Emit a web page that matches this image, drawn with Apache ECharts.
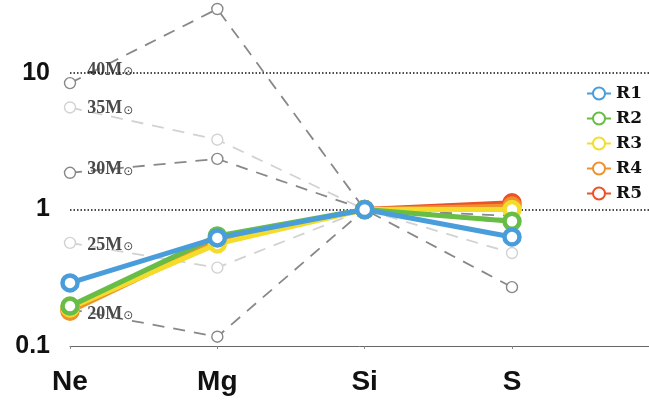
<!DOCTYPE html>
<html>
<head>
<meta charset="utf-8">
<script src="https://cdn.jsdelivr.net/npm/echarts@6/dist/echarts.min.js"></script>
<style>
  html, body { margin: 0; padding: 0; background: #fff; }
  #chart { width: 649px; height: 402px; }
</style>
</head>
<body>
<div id="chart"></div>
<script>
// elements on the x axis
var elements = ['Ne', 'Mg', 'Si', 'S'];
var yTicks = [0.1, 1, 10];
var yTickLabels = ['0.1', '1', '10'];

// observed ratios (relative to Si)
var runNames = ['R1', 'R2', 'R3', 'R4', 'R5'];
var r1 = [0.29, 0.62, 1, 0.63];
var r2 = [0.196, 0.64, 1, 0.82];
var r3 = [0.19, 0.56, 1, 1.0];
var r4 = [0.18, 0.59, 1, 1.06];
var r5 = [0.185, 0.60, 1, 1.12];

// model yields
var modelNames = ['40M', '35M', '30M', '25M', '20M'];
var m40 = [8.45, 29.5, 1, 0.27];
var m35 = [5.6, 3.25, 1, 0.48];
var m30 = [1.86, 2.35, 1, 0.80];
var m25 = [0.57, 0.375, 1, 0.85];
var m20 = [0.186, 0.117, 1, 0.9];

var runColors = ['#4a9ddb', '#67bd45', '#f4dc2c', '#f0922b', '#ec5127'];
var modelColors = ['#888888', '#d2d2d2', '#888888', '#d2d2d2', '#888888'];
var labelOffsets = [-13, 1, -3, 2, 5];

var chart = echarts.init(document.getElementById('chart'));

function modelSeries(name, vals, idx) {
  var data = vals.map(function (v, i) {
    var item = { value: [i, v] };
    if (i === 0) {
      item.label = {
        show: true,
        position: 'right',
        distance: 11,
        offset: [0, labelOffsets[idx]],
        formatter: '{a|' + name + '}{b|⊙}',
        rich: {
          a: { fontFamily: 'Liberation Serif', fontWeight: 'bold', fontSize: 18, color: '#4a4a4a' },
          b: { fontFamily: 'DejaVu Sans', fontSize: 12, color: '#4a4a4a', padding: [4, 0, 0, 1] }
        }
      };
    }
    return item;
  });
  return {
    name: name,
    type: 'line',
    data: data,
    z: 1,
    clip: false,
    symbol: 'circle',
    symbolSize: 11,
    itemStyle: { color: '#fff', borderColor: modelColors[idx], borderWidth: 1.4 },
    lineStyle: { color: modelColors[idx], width: 1.8, type: [12, 9] },
    animation: false
  };
}

function runSeries(name, vals, idx) {
  return {
    name: name,
    type: 'line',
    data: vals.map(function (v, i) { return [i, v]; }),
    z: 10 - idx,
    clip: false,
    symbol: 'circle',
    symbolSize: 15,
    itemStyle: { color: '#fff', borderColor: runColors[idx], borderWidth: 4.5 },
    lineStyle: { color: runColors[idx], width: 5 },
    animation: false
  };
}

var models = [m40, m35, m30, m25, m20];
var runs = [r1, r2, r3, r4, r5];
var series = [];
models.forEach(function (m, i) { series.push(modelSeries(modelNames[i], m, i)); });
runs.forEach(function (r, i) { series.push(runSeries(runNames[i], r, i)); });

// dotted reference lines at 1 and 10
series[0].markLine = {
  silent: true,
  symbol: ['none', 'none'],
  label: { show: false },
  lineStyle: { color: '#111', width: 1.5, type: [1.5, 2] },
  data: [{ yAxis: 10 }, { yAxis: 1 }],
  animation: false
};

var option = {
  animation: false,
  grid: { left: 70, right: 0, top: 8, bottom: 56 },
  legend: {
    data: runNames,
    orient: 'vertical',
    left: 581,
    top: 80,
    itemWidth: 24,
    itemHeight: 15,
    itemGap: 8,
    textStyle: { fontFamily: 'DejaVu Serif', fontWeight: 'bold', fontSize: 17, color: '#111' }
  },
  xAxis: {
    type: 'value',
    min: 0,
    max: 3.93,
    interval: 1,
    splitLine: { show: false },
    axisLine: { show: true, lineStyle: { color: '#666', width: 1 } },
    axisTick: { show: true, length: 3, lineStyle: { color: '#888' } },
    axisLabel: {
      showMaxLabel: false,
      margin: 22,
      fontFamily: 'Liberation Sans',
      fontWeight: 'bold',
      fontSize: 28,
      color: '#111',
      formatter: function (v) {
        return elements[Math.round(v)] !== undefined && Math.abs(v - Math.round(v)) < 1e-6 ? elements[Math.round(v)] : '';
      }
    }
  },
  yAxis: {
    type: 'log',
    logBase: 10,
    min: 0.1,
    max: 30,
    splitLine: { show: false },
    axisLine: { show: false },
    axisTick: { show: false },
    axisLabel: {
      showMaxLabel: false,
      margin: 20,
      fontFamily: 'Liberation Sans',
      fontWeight: 'bold',
      fontSize: 25,
      color: '#111',
      formatter: function (v) {
        for (var i = 0; i < yTicks.length; i++) {
          if (Math.abs(Math.log10(v) - Math.log10(yTicks[i])) < 1e-6) return yTickLabels[i];
        }
        return '';
      }
    }
  },
  series: series
};

chart.setOption(option);
</script>
</body>
</html>
